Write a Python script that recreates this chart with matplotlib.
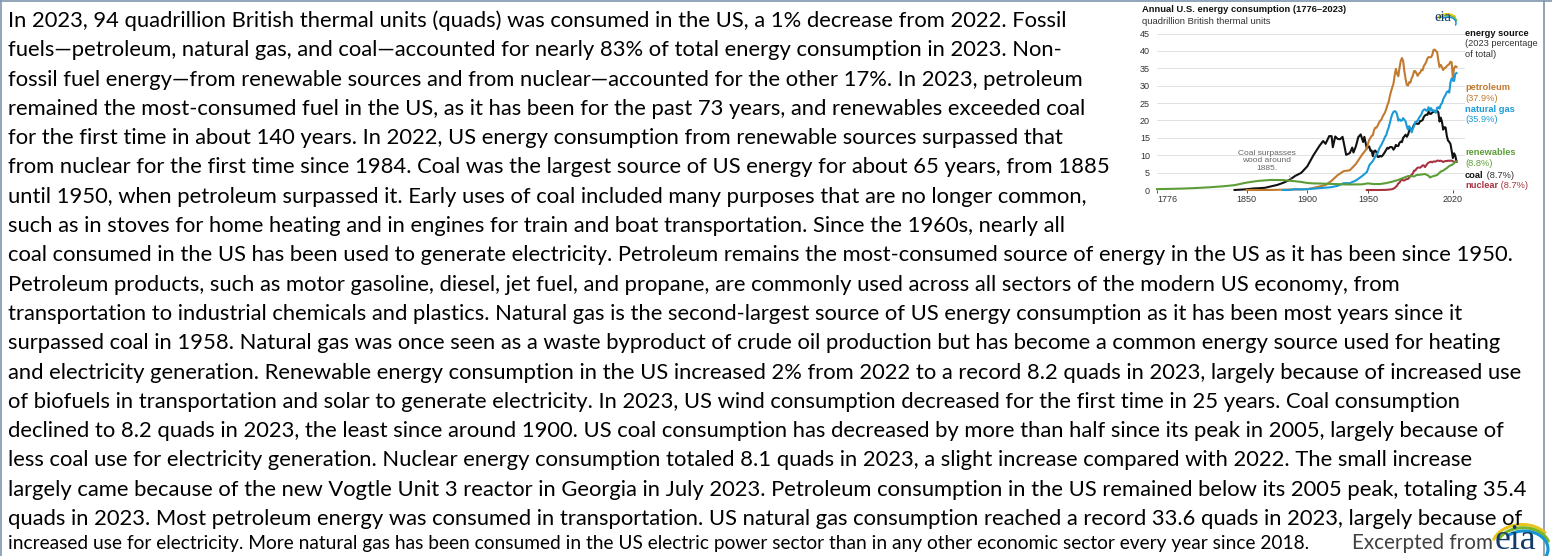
import matplotlib
matplotlib.use('Agg')
import matplotlib.pyplot as plt
import numpy as np
from matplotlib.lines import Line2D

W, H = 1552, 556
DPI = 100

# ---------------- body text ----------------
body_lines = [
    "In 2023, 94 quadrillion British thermal units (quads) was consumed in the US, a 1% decrease from 2022. Fossil",
    "fuels\u2014petroleum, natural gas, and coal\u2014accounted for nearly 83% of total energy consumption in 2023. Non-",
    "fossil fuel energy\u2014from renewable sources and from nuclear\u2014accounted for the other 17%. In 2023, petroleum",
    "remained the most-consumed fuel in the US, as it has been for the past 73 years, and renewables exceeded coal",
    "for the first time in about 140 years. In 2022, US energy consumption from renewable sources surpassed that",
    "from nuclear for the first time since 1984. Coal was the largest source of US energy for about 65 years, from 1885",
    "until 1950, when petroleum surpassed it. Early uses of coal included many purposes that are no longer common,",
    "such as in stoves for home heating and in engines for train and boat transportation. Since the 1960s, nearly all",
    "coal consumed in the US has been used to generate electricity. Petroleum remains the most-consumed source of energy in the US as it has been since 1950.",
    "Petroleum products, such as motor gasoline, diesel, jet fuel, and propane, are commonly used across all sectors of the modern US economy, from",
    "transportation to industrial chemicals and plastics. Natural gas is the second-largest source of US energy consumption as it has been most years since it",
    "surpassed coal in 1958. Natural gas was once seen as a waste byproduct of crude oil production but has become a common energy source used for heating",
    "and electricity generation. Renewable energy consumption in the US increased 2% from 2022 to a record 8.2 quads in 2023, largely because of increased use",
    "of biofuels in transportation and solar to generate electricity. In 2023, US wind consumption decreased for the first time in 25 years. Coal consumption",
    "declined to 8.2 quads in 2023, the least since around 1900. US coal consumption has decreased by more than half since its peak in 2005, largely because of",
    "less coal use for electricity generation. Nuclear energy consumption totaled 8.1 quads in 2023, a slight increase compared with 2022. The small increase",
    "largely came because of the new Vogtle Unit 3 reactor in Georgia in July 2023. Petroleum consumption in the US remained below its 2005 peak, totaling 35.4",
    "quads in 2023. Most petroleum energy was consumed in transportation. US natural gas consumption reached a record 33.6 quads in 2023, largely because of",
]
last_line = "increased use for electricity. More natural gas has been consumed in the US electric power sector than in any other economic sector every year since 2018."
credit_text = "Excerpted from"
logo_text = "eia"

# ---------------- chart data ----------------
chart_title = "Annual U.S. energy consumption (1776\u20132023)"
chart_units = "quadrillion British thermal units"
x_ticks = [1776, 1850, 1900, 1950, 2020]
y_ticks = [0, 5, 10, 15, 20, 25, 30, 35, 40, 45]
annotation_text = "Coal surpasses\nwood around\n1885."
legend_head = ["energy source", "(2023 percentage", "of total)"]
series_names = ["petroleum", "natural gas", "renewables", "coal", "nuclear"]
series_pct = ["(37.9%)", "(35.9%)", "(8.8%)", "(8.7%)", "(8.7%)"]

annual_years = list(range(1949, 2024))

petroleum_early_years = [1850, 1860, 1870, 1880, 1890, 1900, 1905, 1910, 1915, 1920, 1925, 1930, 1935, 1940, 1945]
petroleum_early = [0.0, 0.003, 0.011, 0.096, 0.156, 0.229, 0.61, 1.007, 1.418, 2.676, 4.28, 5.427, 5.675, 7.487, 10.11]
petroleum_annual = [11.88, 13.32, 14.43, 14.96, 15.56, 15.74, 17.25, 17.94, 17.93, 18.53, 19.32,
                    19.92, 20.22, 21.05, 21.70, 22.30, 23.25, 24.40, 25.28, 26.98, 28.34,
                    29.52, 30.56, 32.95, 34.84, 33.45, 32.73, 35.18, 37.12, 37.97, 37.12,
                    34.20, 31.93, 30.23, 30.05, 31.05, 30.92, 32.20, 32.87, 34.22, 34.21,
                    33.55, 32.85, 33.53, 33.74, 34.56, 34.44, 35.67, 36.16, 36.82, 37.84,
                    38.26, 38.19, 38.22, 38.81, 40.29, 40.39, 39.96, 39.77, 37.28, 35.40,
                    36.01, 35.35, 34.51, 35.05, 35.21, 35.66, 35.94, 36.22, 36.91, 36.73,
                    32.23, 35.09, 35.61, 35.43]

gas_early_years = [1880, 1885, 1890, 1895, 1900, 1905, 1910, 1915, 1920, 1925, 1930, 1935, 1940, 1945]
gas_early = [0.0, 0.0, 0.257, 0.147, 0.252, 0.372, 0.54, 0.673, 0.823, 1.212, 1.969, 1.974, 2.726, 3.973]
gas_annual = [5.15, 5.97, 7.05, 7.55, 7.91, 8.33, 9.00, 9.61, 10.19, 10.66, 11.72,
              12.39, 12.93, 13.73, 14.40, 15.29, 15.77, 16.99, 17.94, 19.21, 20.68,
              21.79, 22.47, 22.70, 22.51, 21.73, 19.95, 20.35, 19.93, 20.00, 20.67,
              20.24, 19.74, 18.36, 17.40, 18.38, 17.70, 16.59, 17.64, 18.45, 19.60,
              19.60, 20.03, 20.71, 21.23, 21.73, 22.67, 23.09, 23.22, 22.83, 22.91,
              23.82, 22.77, 23.56, 22.83, 22.91, 22.56, 22.22, 23.66, 23.84, 23.42,
              24.57, 24.95, 26.09, 26.81, 27.38, 28.19, 28.40, 28.03, 30.96, 32.10,
              31.51, 31.35, 33.41, 33.65]

coal_early_years = [1840, 1845, 1850, 1855, 1860, 1865, 1870, 1875, 1880, 1885, 1890, 1895, 1900, 1905,
                    1910, 1913, 1915, 1918, 1920, 1921, 1923, 1925, 1927, 1929, 1930, 1932, 1935, 1937,
                    1938, 1940, 1942, 1944, 1946, 1947]
coal_early = [0.0, 0.1, 0.219, 0.421, 0.518, 0.632, 1.048, 1.44, 2.054, 2.84, 4.062, 4.95, 6.841, 10.0,
              12.71, 14.1, 13.29, 15.5, 15.5, 12.3, 15.4, 14.7, 14.6, 15.3, 13.64, 10.1, 10.63, 12.2,
              10.8, 12.54, 15.2, 16.0, 13.8, 15.3]
coal_annual = [11.98, 12.35, 12.55, 11.31, 11.37, 9.72, 11.17, 11.35, 10.82, 9.53, 9.52,
               9.84, 9.62, 9.91, 10.41, 10.96, 11.58, 12.14, 11.91, 12.33, 12.38,
               12.27, 11.60, 12.08, 12.97, 12.66, 12.66, 13.58, 13.92, 13.77, 15.04,
               15.42, 15.91, 15.32, 15.89, 17.07, 17.48, 17.26, 18.01, 18.85, 19.07,
               19.17, 18.99, 19.12, 19.84, 19.91, 20.09, 21.00, 21.45, 21.66, 21.62,
               22.58, 21.91, 21.90, 22.32, 22.47, 22.80, 22.45, 22.75, 22.39, 19.69,
               20.83, 19.66, 17.38, 18.04, 17.99, 15.55, 14.23, 13.84, 13.24, 11.31,
               9.18, 10.55, 9.85, 8.17]

nuclear_years = [1949, 1957, 1960, 1965, 1968, 1970, 1971, 1972, 1973, 1974, 1975, 1976, 1977, 1978, 1979,
                 1980, 1981, 1982, 1983, 1984, 1985, 1986, 1987, 1988, 1989, 1990, 1991, 1992, 1993,
                 1994, 1995, 1996, 1997, 1998, 1999, 2000, 2001, 2002, 2003, 2004, 2005, 2006, 2007,
                 2008, 2009, 2010, 2011, 2012, 2013, 2014, 2015, 2016, 2017, 2018, 2019, 2020, 2021,
                 2022, 2023]
nuclear_vals = [0.0, 0.0, 0.006, 0.04, 0.142, 0.239, 0.413, 0.584, 0.91, 1.272, 1.9, 2.111, 2.702, 3.024, 2.776,
                2.739, 3.008, 3.131, 3.203, 3.553, 4.076, 4.38, 4.754, 5.587, 5.602, 6.104, 6.422, 6.479, 6.41,
                6.694, 7.075, 7.087, 6.597, 7.068, 7.61, 7.862, 8.029, 8.145, 7.96, 8.223, 8.161, 8.215, 8.459,
                8.426, 8.355, 8.434, 8.269, 8.062, 8.244, 8.338, 8.337, 8.427, 8.419, 8.438, 8.452, 8.251, 8.131,
                8.054, 8.10]

renew_years = [1776, 1790, 1800, 1810, 1820, 1830, 1840, 1850, 1860, 1870, 1880, 1885, 1890, 1895, 1900,
               1905, 1910, 1915, 1920, 1925, 1930, 1935, 1940, 1945, 1949, 1950, 1955, 1960, 1965, 1970,
               1975, 1980, 1983, 1985, 1988, 1990, 1993, 1995, 1997, 2000, 2001, 2003, 2005, 2007, 2010,
               2012, 2015, 2017, 2019, 2020, 2021, 2022, 2023]
renew_vals = [0.25, 0.35, 0.45, 0.6, 0.8, 1.05, 1.4, 2.14, 2.64, 2.89, 2.85, 2.68, 2.52, 2.31, 2.02,
              1.9, 1.87, 1.8, 1.75, 1.7, 1.62, 1.58, 1.62, 1.62, 1.86, 1.9, 1.7, 1.72, 1.98, 2.4,
              2.9, 3.6, 4.0, 4.0, 3.9, 4.3, 4.4, 4.5, 4.6, 4.1, 3.6, 3.9, 4.1, 4.3, 5.3,
              5.6, 6.3, 6.9, 7.2, 7.4, 7.7, 8.1, 8.2]

COLORS = {"petroleum": "#c17a2f", "natural gas": "#1a9ad6", "renewables": "#5d9d37",
          "coal": "#111111", "nuclear": "#a8323e"}

MAIN_FONT = ['Lato', 'DejaVu Sans']
CHART_FONT = ['Liberation Sans', 'DejaVu Sans']
SERIF = ['Liberation Serif', 'DejaVu Serif']

fig = plt.figure(figsize=(W / DPI, H / DPI), dpi=DPI)
fig.patch.set_facecolor('white')
renderer = fig.canvas.get_renderer()


def fx(x):
    return x / W


def fy(y):
    return 1 - y / H


def fit_size(text, family, target_w, weight='normal', base=20.0):
    t = fig.text(0, 0, text, fontsize=base, family=family, weight=weight)
    w = t.get_window_extent(renderer).width
    t.remove()
    return base * target_w / w


# ---- frame lines ----
frame_col = '#8095ad'
fig.add_artist(Line2D([0, 1], [fy(1.2), fy(1.2)], transform=fig.transFigure, color=frame_col, lw=1.2))
fig.add_artist(Line2D([fx(1.2), fx(1.2)], [0, 1], transform=fig.transFigure, color=frame_col, lw=1.2))
fig.add_artist(Line2D([fx(1544), fx(1544)], [0, 1], transform=fig.transFigure, color=frame_col, lw=1.2))

# ---- body text ----
main_size = fit_size(body_lines[8], MAIN_FONT, 1513)
for i, line in enumerate(body_lines):
    fig.text(fx(8), fy(27 + 29.3 * i), line, fontsize=main_size, family=MAIN_FONT,
             color='black', ha='left', va='baseline')

last_size = fit_size(last_line, MAIN_FONT, 1307)
fig.text(fx(8), fy(549), last_line, fontsize=last_size, family=MAIN_FONT,
         color='black', ha='left', va='baseline')

credit_size = fit_size(credit_text, MAIN_FONT, 141)
fig.text(fx(1352), fy(549), credit_text, fontsize=credit_size, family=MAIN_FONT,
         color='#404040', ha='left', va='baseline')

logo_size = fit_size(logo_text, SERIF, 42)
fig.text(fx(1495), fy(549), logo_text, fontsize=logo_size, family=SERIF,
         color='#123a6b', ha='left', va='baseline')


def swoosh(cx, cy, r, a0, a1, color, lw):
    t = np.linspace(np.radians(a0), np.radians(a1), 40)
    xs = cx + r * np.cos(t)
    ys = cy - r * np.sin(t) * 0.75
    fig.add_artist(Line2D(fx(xs), fy(ys), transform=fig.transFigure, color=color, lw=lw,
                          solid_capstyle='round'))


swoosh(1522, 547, 30, 40, 160, '#e8c51c', 2.2)
swoosh(1523, 548, 27, 20, 150, '#78b52b', 2.2)
swoosh(1524, 549, 24, -25, 130, '#1596d3', 2.2)

# ---- chart ----
ax = fig.add_axes([fx(1157), fy(190), fx(1465) - fx(1157), fy(33.6) - fy(190)])
ax.set_xlim(1776, 2030)
ax.set_ylim(0, 45)
for s in ax.spines.values():
    s.set_visible(False)
ax.set_facecolor('none')
ax.set_yticks(y_ticks)
ax.grid(axis='y', color='#dcdcdc', lw=0.6)
ax.set_axisbelow(True)
ax.axhline(0, color='#333333', lw=0.8, zorder=1)
ax.tick_params(axis='y', length=0, pad=5, labelsize=6.5, labelcolor='#333333')
ax.set_xticks(x_ticks)
ax.tick_params(axis='x', length=2.5, width=0.6, color='#333333', pad=1, labelsize=6.5,
               labelcolor='#333333')
for lab in ax.get_xticklabels() + ax.get_yticklabels():
    lab.set_family(CHART_FONT)
ax.get_xticklabels()[0].set_ha('left')

LW = 1.5
ax.plot(coal_early_years + annual_years, coal_early + coal_annual, color=COLORS['coal'], lw=LW,
        clip_on=False, zorder=3)
ax.plot(petroleum_early_years + annual_years, petroleum_early + petroleum_annual,
        color=COLORS['petroleum'], lw=LW, clip_on=False, zorder=4)
ax.plot(gas_early_years + annual_years, gas_early + gas_annual, color=COLORS['natural gas'], lw=LW,
        clip_on=False, zorder=5)
ax.plot(nuclear_years, nuclear_vals, color=COLORS['nuclear'], lw=LW, clip_on=False, zorder=6)
ax.plot(renew_years, renew_vals, color=COLORS['renewables'], lw=LW, clip_on=False, zorder=7)

ax.annotate(annotation_text, xy=(1887, 2.9), xytext=(1866.5, 8.4), textcoords='data',
            ha='center', va='center', fontsize=6.0, color='#666666', family=CHART_FONT,
            linespacing=1.05,
            arrowprops=dict(arrowstyle='-', color='#999999', lw=0.5, shrinkA=1, shrinkB=0,
                            relpos=(0.85, 0.0)))

# chart title
fig.text(fx(1142), fy(10), chart_title, fontsize=fit_size(chart_title, CHART_FONT, 203, 'bold'),
         family=CHART_FONT, weight='bold', color='#111111', ha='left', va='center')
fig.text(fx(1142), fy(22), chart_units, fontsize=fit_size(chart_units, CHART_FONT, 128),
         family=CHART_FONT, color='#333333', ha='left', va='center')

# small eia logo in chart
fig.text(fx(1443), fy(21), logo_text, fontsize=10.5, family=SERIF, color='#123a6b',
         ha='center', va='baseline')
swoosh(1447, 22, 11, 40, 160, '#e8c51c', 1.1)
swoosh(1447.5, 22.5, 9.5, 15, 150, '#78b52b', 1.1)
swoosh(1448, 23, 8, -20, 125, '#1596d3', 1.1)

# legend text
LX = fx(1465)
leg_fs = 6.7
fig.text(LX, fy(33), legend_head[0], fontsize=leg_fs, family=CHART_FONT, weight='bold',
         color='#111111', ha='left', va='center')
fig.text(LX, fy(43.5), legend_head[1], fontsize=leg_fs, family=CHART_FONT, color='#333333',
         ha='left', va='center')
fig.text(LX, fy(54), legend_head[2], fontsize=leg_fs, family=CHART_FONT, color='#333333',
         ha='left', va='center')

two_line = {"petroleum": (88, 98.5), "natural gas": (109, 120), "renewables": (152, 163)}
for name, pct in zip(series_names, series_pct):
    col = COLORS[name]
    if name in two_line:
        y1, y2 = two_line[name]
        fig.text(LX, fy(y1), name, fontsize=leg_fs, family=CHART_FONT, weight='bold', color=col,
                 ha='left', va='center')
        fig.text(LX, fy(y2), pct, fontsize=leg_fs, family=CHART_FONT, color=col,
                 ha='left', va='center')
    else:
        yy = 177.5 if name == 'coal' else 188
        pct_col = '#333333' if name == 'coal' else col
        t = fig.text(LX, fy(yy), name, fontsize=leg_fs, family=CHART_FONT, weight='bold', color=col,
                     ha='left', va='baseline')
        fig.add_artist(matplotlib.text.Annotation(" " + pct, xy=(1, 0), xycoords=t, fontsize=leg_fs,
                                                  family=CHART_FONT, color=pct_col, ha='left',
                                                  va='bottom', annotation_clip=False))

fig.savefig('out.png', dpi=DPI, facecolor='white')
